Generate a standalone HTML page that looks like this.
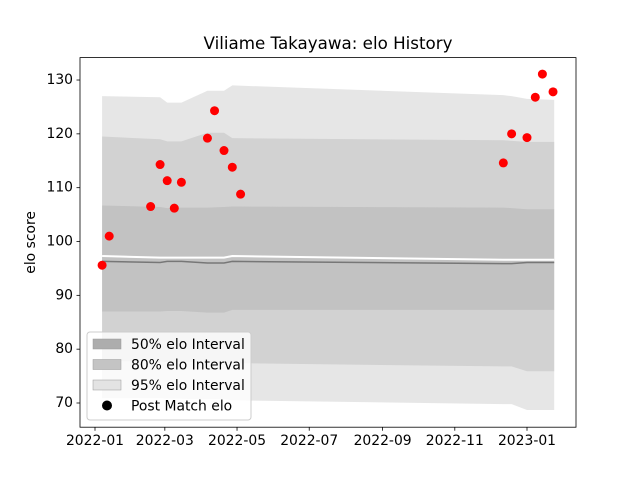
<!DOCTYPE html>
<html><head><meta charset="utf-8"><style>
body{margin:0;background:#fff;font-family:"Liberation Sans","DejaVu Sans",sans-serif}
svg text{font-family:"DejaVu Sans","Liberation Sans",sans-serif}
</style></head><body>
<svg id="chart" width="640" height="480" xmlns="http://www.w3.org/2000/svg"></svg>
<script>
const matchDates=["2022-01-07","2022-01-13","2022-02-17","2022-02-25","2022-03-03","2022-03-09","2022-03-15","2022-04-06","2022-04-12","2022-04-20","2022-04-27","2022-05-04","2022-12-12","2022-12-19","2023-01-01","2023-01-08","2023-01-14","2023-01-23"];
const postElo=[95.6,101,106.5,114.3,111.3,106.2,111,119.2,124.3,116.9,113.8,108.8,114.6,120,119.3,126.8,131.1,127.8];
const bandDates=["2022-01-07","2022-02-25","2022-03-03","2022-03-15","2022-04-06","2022-04-20","2022-04-27","2022-12-12","2022-12-19","2023-01-01","2023-01-24"];
const upper95=[127,126.8,125.8,125.8,128,128,129,127.2,127,126.5,126.3];
const upper80=[119.5,119,118.6,118.6,120.2,120.2,119.2,118.8,118.7,118.5,118.5];
const upper50=[106.7,106.4,106.2,106.3,106.3,106.4,106.5,106.3,106.2,106,106];
const meanElo=[96.3,96.1,96.3,96.3,96.0,96.0,96.3,95.9,95.9,96.1,96.1];
const whiteLine=[97.3,97.0,97.0,97.0,97.0,97.0,97.3,96.6,96.6,96.6,96.6];
const lower50=[87,87,87.1,87.1,86.8,86.8,87.3,87.3,87.3,87.3,87.3];
const lower80=[77.8,77.7,77.6,77.6,77.6,77.6,77.4,76.8,76.8,75.9,75.9];
const lower95=[70.9,70.9,70.8,70.8,70.7,70.7,70.5,69.8,69.8,68.7,68.7];
const yTicks=[70,80,90,100,110,120,130];
const xTicks=["2022-01","2022-03","2022-05","2022-07","2022-09","2022-11","2023-01"];

const NS="http://www.w3.org/2000/svg",svg=document.getElementById('chart');
const L=80,R=576,T=57.6,B=427.2;
const t0=Date.UTC(2022,0,1);
function dayOf(s){const p=s.split('-').map(Number);return (Date.UTC(p[0],p[1]-1,p[2]||1)-t0)/864e5;}
function xs(s){return 95+dayOf(s)*432/365;}
function ys(v){return 403-(v-70)*5.383;}
function el(tag,a,p){const e=document.createElementNS(NS,tag);for(const k in a)e.setAttribute(k,a[k]);(p||svg).appendChild(e);return e;}
function band(up,lo,fill,name){
 let d='M'+bandDates.map((s,i)=>xs(s)+','+ys(up[i])).join('L');
 d+='L'+bandDates.slice().reverse().map((s,i)=>xs(s)+','+ys(lo[lo.length-1-i])).join('L')+'Z';
 const p=el('path',{d:d,fill:fill});
 
 
}
function line(arr,col,w,name){
 const p=el('polyline',{points:bandDates.map((s,i)=>xs(s)+','+ys(arr[i])).join(' '),fill:'none',stroke:col,'stroke-width':w});
 
 
}
band(upper95,lower95,'rgba(128,128,128,0.2)','band-95');
band(upper80,lower80,'rgba(128,128,128,0.2)','band-80');
band(upper50,lower50,'rgba(128,128,128,0.2)','band-50');
line(whiteLine,'#fff',2,'elo-white-line');
line(meanElo,'#777',1.5,'elo-mean-line');
postElo.forEach((v,i)=>{const c=el('circle',{cx:xs(matchDates[i]),cy:ys(v),r:4.5,fill:'#ff0000'});
 
 });
const fr=el('rect',{x:L,y:T,width:R-L,height:B-T,fill:'none',stroke:'#000','stroke-width':0.8});


yTicks.forEach(v=>{const y=ys(v);el('line',{x1:L-3.5,x2:L,y1:y,y2:y,stroke:'#000','stroke-width':0.8});
 const t=el('text',{x:L-7,y:y+4,'text-anchor':'end','font-size':13.9});t.textContent=v;
 
 });
xTicks.forEach(s=>{const x=xs(s);el('line',{x1:x,x2:x,y1:B,y2:B+3.5,stroke:'#000','stroke-width':0.8});
 const t=el('text',{x:x,y:B+18,'text-anchor':'middle','font-size':13.9});t.textContent=s;
 
 });
const yt=el('text',{x:35,y:(T+B)/2,'text-anchor':'middle','font-size':13.9,transform:'rotate(-90 35 '+(T+B)/2+')'});yt.textContent='elo score';


const ti=el('text',{x:(L+R)/2,y:49,'text-anchor':'middle','font-size':16.7});ti.textContent='Viliame Takayawa: elo History';


const lg=el('g',{});


el('rect',{x:87,y:332,width:164,height:88,rx:3,fill:'#fff','fill-opacity':0.8,stroke:'#ccc'},lg);
const items=[['50% elo Interval','#adadad'],['80% elo Interval','#c4c4c4'],['95% elo Interval','#e3e3e3'],['Post Match elo',null]];
items.forEach((it,i)=>{const y=344+i*20.5;
 if(it[1]){el('rect',{x:93,y:y-5,width:28,height:10,fill:it[1],stroke:'#999','stroke-width':0.5},lg);}
 else el('circle',{cx:107,cy:y,r:5,fill:'#000'},lg);
 const t=el('text',{x:131,y:y+5,'font-size':13.9},lg);t.textContent=it[0];
 
 });
</script>
</body></html>
